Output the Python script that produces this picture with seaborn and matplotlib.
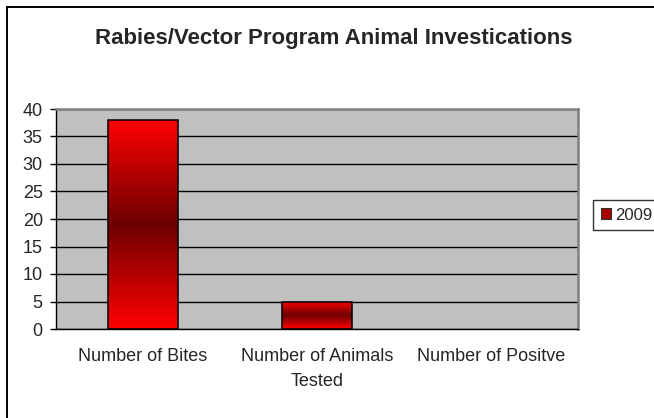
import numpy as np
import pandas as pd
import matplotlib
matplotlib.use('Agg')
import matplotlib.pyplot as plt
import seaborn as sns
from matplotlib.colors import LinearSegmentedColormap
from matplotlib.patches import Patch, Rectangle
from matplotlib.lines import Line2D

# data
categories = ['Number of Bites', 'Number of Animals\nTested', 'Number of Positve']
counts = [38, 5, 0]
series_name = '2009'
title = 'Rabies/Vector Program Animal Investications'

sns.set_style('white')
plt.rcParams['font.family'] = ['Liberation Sans', 'DejaVu Sans']

df = pd.DataFrame({'category': categories, 'count': counts, 'year': series_name})

W, H = 654, 418
fig = plt.figure(figsize=(W / 100, H / 100), dpi=100)
fig.patch.set_facecolor('white')

# chart-area border (only the top and left edges fall inside the picture)
fig.lines.append(Line2D([7 / W, 7 / W], [-0.1, 1 - 7 / H], transform=fig.transFigure,
                        color='black', linewidth=1.4))
fig.lines.append(Line2D([7 / W, 1.1], [1 - 7 / H, 1 - 7 / H], transform=fig.transFigure,
                        color='black', linewidth=1.4))

left, right, bottom, top = 56 / W, 578 / W, 1 - 329 / H, 1 - 109 / H
ax = fig.add_axes([left, bottom, right - left, top - bottom])
ax.set_facecolor('#C0C0C0')
ax.set_axisbelow(True)

sns.barplot(data=df, x='category', y='count', hue='year', palette=['#CC0000'],
            width=0.4, edgecolor='none', legend=False, ax=ax)

ax.set_yticks(np.arange(0, 41, 5))
ax.yaxis.grid(True, color='black', linewidth=1)
ax.xaxis.grid(False)

# vertical red -> dark red -> red gradient clipped to each bar
cmap = LinearSegmentedColormap.from_list('bar', ['#FF0000', '#6E0000', '#FF0000'])
grad = np.linspace(0, 1, 256).reshape(-1, 1)
for bar in list(ax.patches):
    h = bar.get_height()
    if h <= 0:
        bar.set_visible(False)
        continue
    x0 = bar.get_x()
    w = bar.get_width()
    im = ax.imshow(grad, cmap=cmap, aspect='auto', extent=(x0, x0 + w, 0, h),
                   zorder=bar.get_zorder() + 0.1, interpolation='bicubic')
    im.set_clip_path(bar)
    ax.add_patch(Rectangle((x0, 0), w, h, fill=False, edgecolor='black',
                           linewidth=1.1, zorder=bar.get_zorder() + 0.2))
ax.set_xlim(-0.5, 2.5)
ax.set_ylim(0, 40)

ax.set_xlabel('')
ax.set_ylabel('')
ax.set_xticks([0, 1, 2])
ax.set_xticklabels(categories, fontsize=13, linespacing=1.55)
ax.tick_params(axis='x', length=0, pad=14)
ax.set_xticks([-0.5, 0.5, 1.5, 2.5], minor=True)
ax.tick_params(axis='x', which='minor', length=4.5, width=1, color='black', direction='out')
ax.tick_params(axis='y', labelsize=13, length=4.5, width=1, color='black',
               direction='out', left=True, pad=5)

for s in ['left', 'bottom']:
    ax.spines[s].set_color('black')
    ax.spines[s].set_linewidth(1)
for s in ['top', 'right']:
    ax.spines[s].set_color('#808080')
    ax.spines[s].set_linewidth(1.8)

fig.text(0.511, 1 - 38.5 / H, title, ha='center', va='center', fontsize=16, fontweight='bold')

handle = Patch(facecolor='#A80000', edgecolor='#333333', linewidth=0.8)
leg = fig.legend([handle], [series_name], loc='upper left', bbox_to_anchor=(593 / W, 1 - 200 / H),
                 borderaxespad=0, fontsize=12, frameon=True, fancybox=False,
                 handlelength=0.6, handleheight=0.6, handletextpad=0.25, borderpad=0.45,
                 edgecolor='black')
leg.get_frame().set_linewidth(1)

fig.savefig('out.png', dpi=100)
